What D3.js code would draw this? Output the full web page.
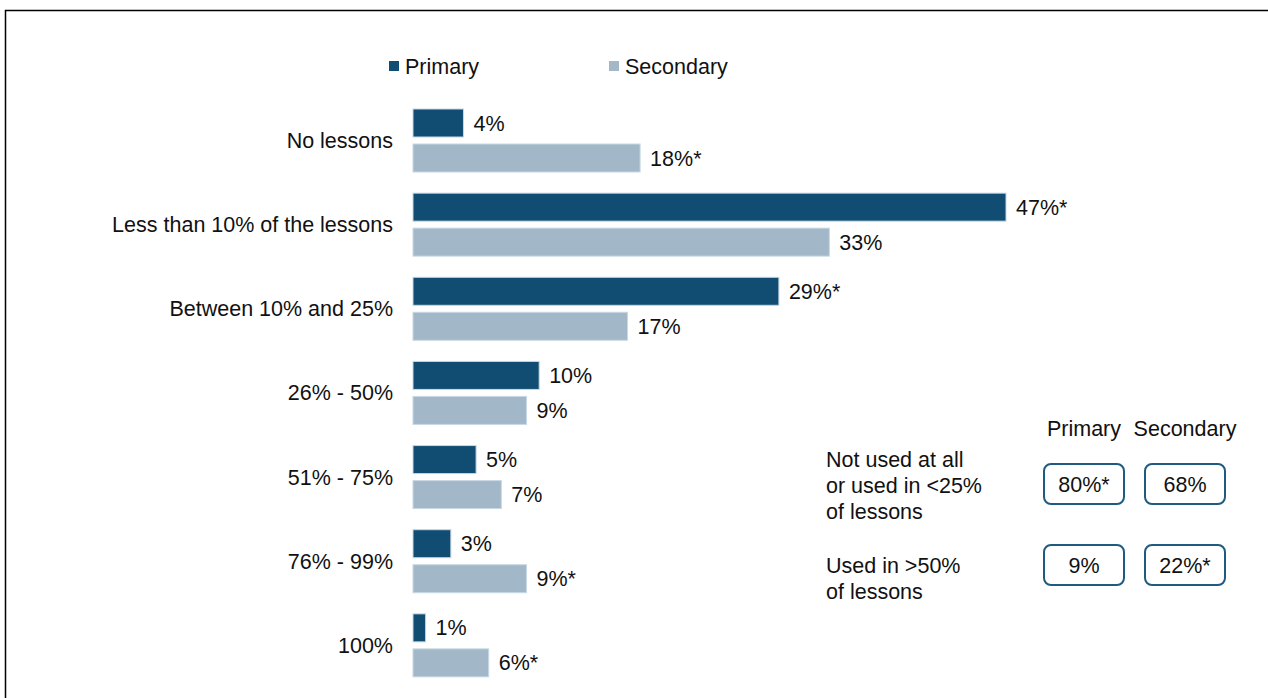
<!DOCTYPE html>
<html>
<head>
<meta charset="utf-8">
<script src="https://cdn.jsdelivr.net/npm/d3@7"></script>
<style>
  html, body { margin: 0; padding: 0; background: #fff; }
  svg { display: block; font-family: "Liberation Sans", Arial, sans-serif; }
</style>
</head>
<body>
<svg id="chart" width="1268" height="698"></svg>
<script>
// Share of lessons in which the resource is used, by school phase
const categories = ["No lessons", "Less than 10% of the lessons", "Between 10% and 25%",
  "26% - 50%", "51% - 75%", "76% - 99%", "100%"];
const seriesNames = ["Primary", "Secondary"];
const primaryValues = [4, 47, 29, 10, 5, 3, 1];
const secondaryValues = [18, 33, 17, 9, 7, 9, 6];
const primaryLabels = ["4%", "47%*", "29%*", "10%", "5%", "3%", "1%"];
const secondaryLabels = ["18%*", "33%", "17%", "9%", "7%", "9%*", "6%*"];

// Summary panel
const summaryRows = [["Not used at all", "or used in <25%", "of lessons"], ["Used in >50%", "of lessons"]];
const summaryPrimary = ["80%*", "9%"];
const summarySecondary = ["68%", "22%*"];

const colors = { Primary: "#114D72", Secondary: "#A2B8C8" };
const fs = 21.5;

const svg = d3.select("#chart");

// Frame
svg.append("rect")
  .attr("x", 5.5).attr("y", 10.5)
  .attr("width", 1300).attr("height", 720)
  .attr("fill", "none").attr("stroke", "#000").attr("stroke-width", 1.5);

const x = d3.scaleLinear().domain([0, 47]).range([413, 1006]);
const y = d3.scaleBand().domain(categories).range([98, 687]).paddingInner(0).paddingOuter(0);
const barH = 28;
const gap = 7;

const groups = svg.append("g").selectAll("g")
  .data(categories)
  .join("g")
  .attr("transform", d => `translate(0,${y(d) + 11})`);

// Category labels
groups.append("text")
  .attr("x", 393)
  .attr("y", barH + gap / 2)
  .attr("dy", "0.35em")
  .attr("text-anchor", "end")
  .attr("font-size", fs)
  .attr("fill", "#111")
  .text(d => d);

// Bars
const series = [
  { name: "Primary", values: primaryValues, labels: primaryLabels, off: 0 },
  { name: "Secondary", values: secondaryValues, labels: secondaryLabels, off: barH + gap }
];

series.forEach(s => {
  groups.append("rect")
    .attr("x", x(0))
    .attr("y", s.off)
    .attr("width", (d, i) => x(s.values[i]) - x(0))
    .attr("height", barH)
    .attr("fill", colors[s.name])
    .attr("stroke", "#C8D8E4")
    .attr("stroke-width", 1);
  groups.append("text")
    .attr("x", (d, i) => x(s.values[i]) + 10)
    .attr("y", s.off + barH / 2)
    .attr("dy", "0.35em")
    .attr("font-size", fs)
    .attr("fill", "#111")
    .text((d, i) => s.labels[i]);
});

// Legend
const legendX = [389, 609];
const legend = svg.append("g").selectAll("g")
  .data(seriesNames)
  .join("g")
  .attr("transform", (d, i) => `translate(${legendX[i]},61)`);
legend.append("rect")
  .attr("width", 10).attr("height", 10)
  .attr("fill", d => colors[d]);
legend.append("text")
  .attr("x", 16).attr("y", 5).attr("dy", "0.35em")
  .attr("font-size", fs).attr("fill", "#111")
  .text(d => d);

// Summary panel
const panel = svg.append("g");
const colX = [1084, 1185];
panel.selectAll("text.head")
  .data(seriesNames)
  .join("text")
  .attr("class", "head")
  .attr("x", (d, i) => colX[i])
  .attr("y", 428).attr("dy", "0.35em")
  .attr("text-anchor", "middle")
  .attr("font-size", fs).attr("fill", "#111")
  .text(d => d);

const rowY = [484, 565];
const rowLabelY = [[459, 485, 511], [565, 591]];
summaryRows.forEach((lines, r) => {
  panel.selectAll(null)
    .data(lines)
    .join("text")
    .attr("x", 826)
    .attr("y", (d, k) => rowLabelY[r][k]).attr("dy", "0.35em")
    .attr("font-size", fs).attr("fill", "#111")
    .text(d => d);
  [summaryPrimary[r], summarySecondary[r]].forEach((v, c) => {
    panel.append("rect")
      .attr("x", colX[c] - 40).attr("y", rowY[r] - 20)
      .attr("width", 80).attr("height", 40)
      .attr("rx", 7).attr("ry", 7)
      .attr("fill", "#fff").attr("stroke", "#1F5A80").attr("stroke-width", 2);
    panel.append("text")
      .attr("x", colX[c]).attr("y", rowY[r]).attr("dy", "0.35em")
      .attr("text-anchor", "middle")
      .attr("font-size", fs).attr("fill", "#111")
      .text(v);
  });
});
</script>
</body>
</html>
